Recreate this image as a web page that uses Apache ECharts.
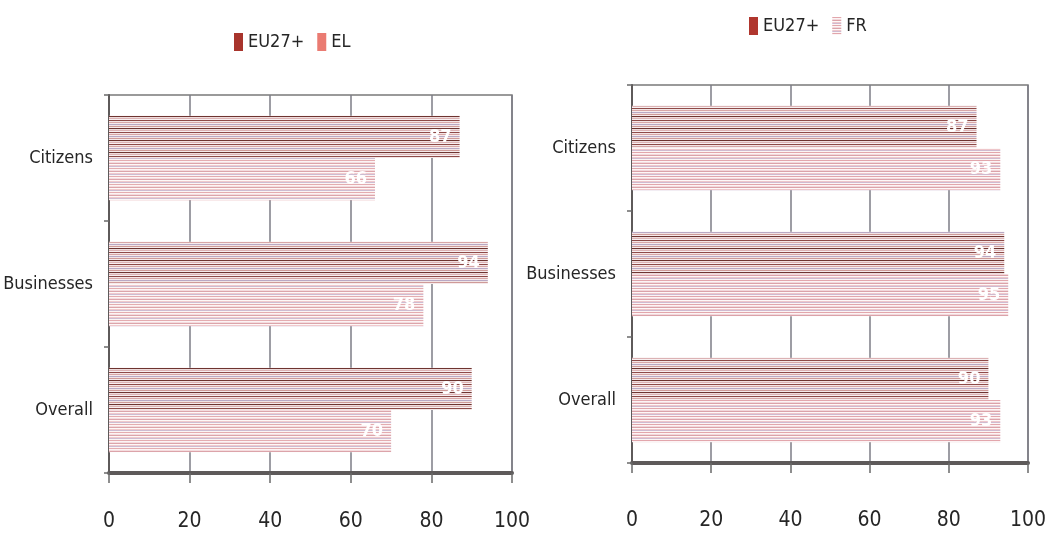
<!DOCTYPE html>
<html>
<head>
<meta charset="utf-8">
<script src="https://cdn.jsdelivr.net/npm/echarts@6/dist/echarts.min.js"></script>
<style>
  html, body { margin: 0; padding: 0; background: #fff; }
  #chart { width: 1045px; height: 541px; }
</style>
</head>
<body>
<div id="chart"></div>
<script>
// Satisfaction levels (%) for EU27+ compared with Greece (EL) and France (FR)
const categories = ['Citizens', 'Businesses', 'Overall'];
const xTicks = [0, 20, 40, 60, 80, 100];

const eu27Left = [87, 94, 90];
const elValues = [66, 78, 70];

const eu27Right = [87, 94, 90];
const frValues = [93, 95, 93];

const FONT = '"Liberation Sans Narrow", "DejaVu Sans Condensed", "Noto Sans", sans-serif';
const TEXT = '#262626';

// Horizontal line pattern used to fill the bars
function stripes(rows) {
  const c = document.createElement('canvas');
  c.width = 8;
  c.height = rows.length;
  const ctx = c.getContext('2d');
  rows.forEach((col, i) => {
    ctx.fillStyle = col;
    ctx.fillRect(0, i, 8, 1);
  });
  return { image: c, repeat: 'repeat' };
}

const euPattern = stripes([
  '#8e4a48', '#f3e6e6', '#d8a6a6', '#f6eced',
  '#b9a8c4', '#f1e4e5', '#cf9a98', '#f5ebec',
  '#6e3430', '#eedcdc', '#dcb2b4', '#f7f0f1'
]);
const elPattern = stripes([
  '#e4acb0', '#fcf4f5', '#f4dcde', '#dca4aa',
  '#fdf8f8', '#f0c9cc', '#cdbcd2', '#fcf5f5'
]);
const frPattern = stripes([
  '#e2a6ac', '#fcf4f5', '#f2d8db', '#dba2a9',
  '#fdf8f8', '#eec6ca', '#cfbad0', '#fcf5f5'
]);

function xAxis(gridIndex, margin) {
  return {
    gridIndex,
    type: 'value',
    min: 0,
    max: 100,
    interval: 20,
    axisLine: { show: true, lineStyle: { color: '#5e5a5a', width: 4 } },
    axisTick: { show: true, length: 10, lineStyle: { color: '#6a6a6a', width: 1.5 } },
    axisLabel: {
      margin,
      color: TEXT,
      fontFamily: FONT,
      fontSize: 21,
      formatter: v => (xTicks.includes(v) ? String(v) : '')
    },
    splitLine: { show: true, lineStyle: { color: '#7c7c86', width: 1.5 } }
  };
}

function yAxis(gridIndex) {
  return {
    gridIndex,
    type: 'category',
    data: categories,
    inverse: true,
    axisLine: { show: true, lineStyle: { color: '#5e5a5a', width: 2 } },
    axisTick: { show: true, length: 5, lineStyle: { color: '#6a6a6a', width: 1.5 } },
    axisLabel: {
      margin: 16,
      color: TEXT,
      fontFamily: FONT,
      fontSize: 18
    }
  };
}

function barSeries(name, data, pattern, axisIndex) {
  return {
    name,
    type: 'bar',
    data,
    xAxisIndex: axisIndex,
    yAxisIndex: axisIndex,
    barGap: '0%',
    barCategoryGap: '33%',
    itemStyle: { color: pattern },
    label: {
      show: true,
      position: 'insideRight',
      distance: 8,
      color: '#ffffff',
      fontFamily: FONT,
      fontSize: 18,
      fontWeight: 'bold'
    }
  };
}

const legendText = { color: TEXT, fontFamily: FONT, fontSize: 18 };

const option = {
  backgroundColor: '#ffffff',
  animation: false,
  legend: [
    {
      left: 229,
      top: 28,
      icon: 'rect',
      itemWidth: 9,
      itemHeight: 18,
      itemGap: 13,
      textStyle: legendText,
      data: [
        { name: 'EU27+', itemStyle: { color: '#a8342c' } },
        { name: 'EL', itemStyle: { color: '#ea7b72' } }
      ]
    },
    {
      left: 744,
      top: 12,
      icon: 'rect',
      itemWidth: 9,
      itemHeight: 18,
      itemGap: 13,
      textStyle: legendText,
      data: [
        { name: 'EU27+', itemStyle: { color: '#b0362e' } },
        { name: 'FR', itemStyle: { color: frPattern } }
      ]
    }
  ],
  grid: [
    { left: 109, right: 533, top: 95, bottom: 68, outerBoundsMode: 'none', containLabel: false,
      show: true, borderColor: '#7a7a7a', borderWidth: 1.5 },
    { left: 632, right: 17, top: 85, bottom: 78, outerBoundsMode: 'none', containLabel: false,
      show: true, borderColor: '#7a7a7a', borderWidth: 1.5 }
  ],
  xAxis: [xAxis(0, 38), xAxis(1, 47)],
  yAxis: [yAxis(0), yAxis(1)],
  series: [
    barSeries('EU27+', eu27Left, euPattern, 0),
    barSeries('EL', elValues, elPattern, 0),
    barSeries('EU27+', eu27Right, euPattern, 1),
    barSeries('FR', frValues, frPattern, 1)
  ]
};

echarts.init(document.getElementById('chart'), null, { renderer: 'canvas' }).setOption(option);
</script>
</body>
</html>
